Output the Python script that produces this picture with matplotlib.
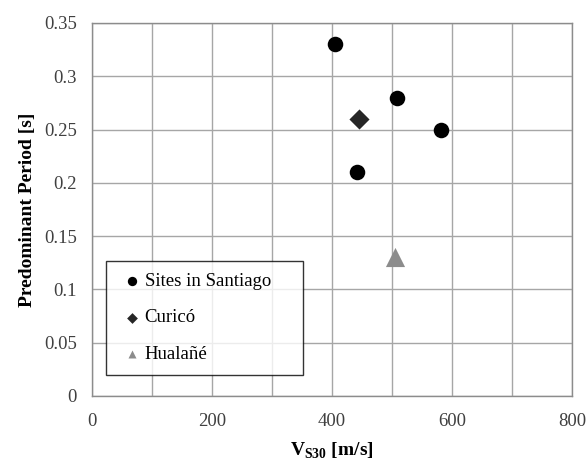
import matplotlib
matplotlib.use("Agg")
import matplotlib.pyplot as plt

plt.rcParams['font.family'] = ['Liberation Serif', 'DejaVu Serif']
plt.rcParams['mathtext.fontset'] = 'custom'
plt.rcParams['mathtext.rm'] = 'Liberation Serif'
plt.rcParams['mathtext.bf'] = 'Liberation Serif:bold'

santiago_vs30 = [405, 508, 581, 441]
santiago_period = [0.33, 0.28, 0.25, 0.21]
curico_vs30 = [445]
curico_period = [0.26]
hualane_vs30 = [505]
hualane_period = [0.13]

xticks = [0, 200, 400, 600, 800]
yticks = [0, 0.05, 0.1, 0.15, 0.2, 0.25, 0.3, 0.35]
ytick_labels = ['0', '0.05', '0.1', '0.15', '0.2', '0.25', '0.3', '0.35']

fig = plt.figure(figsize=(5.87, 4.62), dpi=100)
ax = fig.add_axes([92/587, 66/462, 480/587, 373/462])

ax.scatter(santiago_vs30, santiago_period, marker='o', s=125, color='black',
           label='Sites in Santiago', zorder=3, linewidths=0)
ax.scatter(curico_vs30, curico_period, marker='D', s=105, color='#262626',
           label='Curicó', zorder=3, linewidths=0)
ax.scatter(hualane_vs30, hualane_period, marker='^', s=190, color='#8c8c8c',
           label='Hualañé', zorder=3, linewidths=0)

ax.set_xlim(0, 800)
ax.set_ylim(0, 0.35)
ax.set_xticks(xticks)
ax.set_xticks(range(0, 801, 100), minor=True)
ax.set_yticks(yticks)
ax.set_yticklabels(ytick_labels)
ax.grid(True, which='both', color='#a6a6a6', linewidth=1.0)
ax.set_axisbelow(True)
ax.tick_params(which='both', length=0, labelsize=13.5, colors='#404040')
ax.tick_params(axis='x', pad=12)
ax.tick_params(axis='y', pad=11)
for sp in ax.spines.values():
    sp.set_color('#8c8c8c')
    sp.set_linewidth(1.0)

ax.set_xlabel(r'V$_{\mathbf{S30}}$ [m/s]', fontsize=14, fontweight='bold', labelpad=8)
ax.set_ylabel('Predominant Period [s]', fontsize=14, fontweight='bold', labelpad=6)

leg = ax.legend(loc='lower left', bbox_to_anchor=(0.03, 0.056, 0.41, 0.3),
                mode='expand', frameon=True,
                fancybox=False, edgecolor='black', fontsize=13.5,
                handletextpad=0.0, labelspacing=1.04,
                borderpad=0.64, handlelength=1.4, borderaxespad=0)
leg.get_frame().set_linewidth(1.0)
leg.set_zorder(5)
for h, sz in zip(leg.legend_handles, [45, 30, 33]):
    h.set_sizes([sz])

fig.savefig('out.png', dpi=100)
